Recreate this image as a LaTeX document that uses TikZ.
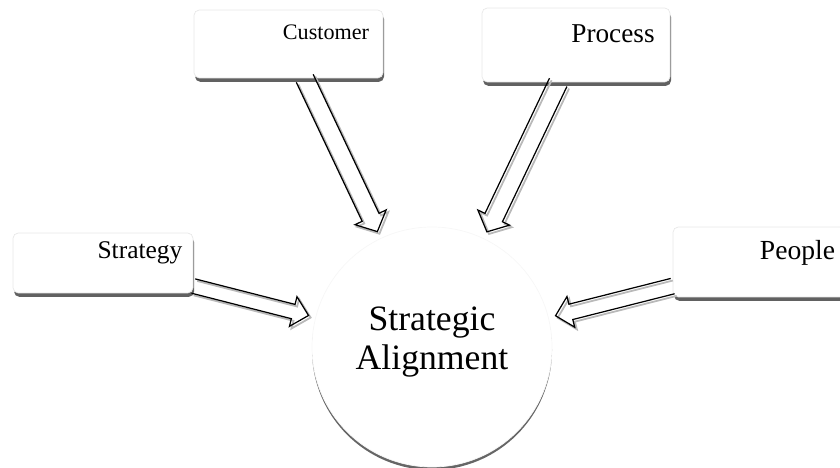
\documentclass[tikz,border=0pt]{standalone}
\usepackage{fontspec}
\setmainfont{Liberation Serif}
\usetikzlibrary{calc,shadows}
\tikzset{
  box/.style      = {rectangle, draw = gray!18, rounded corners = 3pt,
                     fill = white, line width = 0.4pt,
                     drop shadow = {shadow xshift = 0.6pt, shadow yshift = -2.2pt,
                                    fill = black!62, opacity = 1}},
  hub/.style      = {circle, draw = gray!6, fill = white,
                     minimum size = 4.8cm, inner sep = 0pt,
                     drop shadow = {shadow xshift = 0pt, shadow yshift = -1.7pt,
                                    fill = black!60, opacity = 1}},
  lab/.style      = {inner sep = 0pt},
  arrline/.style  = {draw = black, line width = 0.7pt},
  arrshade/.style = {draw = gray!55, line width = 1pt}
}
% hollow block arrow from node #1 towards node #2, half shaft width #3
\newcommand\blockarr[3]{%
  \path (#1) -- (#2) coordinate[pos=0] (ba1) coordinate[pos=1] (ba2);
  \foreach \st/\dx/\dy in {arrshade/1.2pt/-1.2pt, arrline/0pt/0pt}
    \draw[\st] let \p1 = (ba1), \p2 = (ba2),
      \n1 = {atan2(\y2-\y1,\x2-\x1)}, \n2 = {veclen(\x2-\x1,\y2-\y1)-4pt}
      in [shift = {(\x1+\dx,\y1+\dy)}, rotate = \n1]
      (0pt,#3) -- ({\n2-9pt},#3) -- ({\n2-9pt},{#3+4.5pt}) -- ({\n2+0pt},0pt)
      -- ({\n2-9pt},{-#3-4.5pt}) -- ({\n2-9pt},-#3) -- (0pt,-#3);
}

\begin{document}
\begin{tikzpicture}
  \useasboundingbox (0,0) rectangle (16.8,9.36);
  \clip (0,0) rectangle (16.8,9.36);

  \node[box, minimum width=3.78cm, minimum height=1.36cm] (cust) at (5.77,8.48) {};
  \node[box, minimum width=3.76cm, minimum height=1.48cm] (proc) at (11.52,8.46) {};
  \node[box, minimum width=3.6cm, minimum height=1.2cm] (strat) at (2.06,4.10) {};
  \node[box, minimum width=3.8cm, minimum height=1.4cm] (peop) at (15.36,4.12) {};
  \node[hub] (hub) at (8.64,2.42) {};

  \node[lab, font=\fontsize{12.6}{15}\selectfont] (custlab) at (6.52,8.71) {Customer};
  \node[lab, font=\fontsize{15.5}{18}\selectfont] (proclab) at (12.26,8.69) {Process};
  \node[lab, font=\fontsize{14.5}{17}\selectfont] (stratlab) at (2.80,4.30) {Strategy};
  \node[lab, font=\fontsize{15.7}{18}\selectfont] (peoplab) at (15.95,4.31) {People};
  \node[lab, align=center, font=\fontsize{20.3}{21.8}\selectfont] (hublab) at (8.64,2.52)
    {Strategic\\Alignment};

  \blockarr{cust}{hub}{5.3pt}
  \blockarr{proc}{hub}{5.5pt}
  \blockarr{strat}{hub}{4.2pt}
  \blockarr{peop}{hub}{4.5pt}
\end{tikzpicture}
\end{document}
